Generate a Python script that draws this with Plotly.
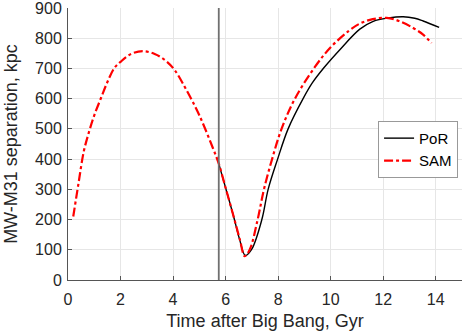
import plotly.graph_objects as go

# SAM track (Gyr, kpc)
sam_time = [0.2, 0.4, 0.6, 0.8, 1.0, 1.26, 1.5, 1.77, 2.0, 2.4, 2.85, 3.3, 3.7, 4.05, 4.5,
            5.0, 5.5, 5.74, 6.0, 6.29, 6.54, 6.73, 6.92, 7.22, 7.46, 7.77, 8.13, 8.64,
            9.4, 10.0, 10.7, 11.1, 11.6, 12.13, 12.6, 13.14, 13.52, 13.84]
sam_sep = [210, 320, 425, 490, 545, 603, 655, 702, 722, 748, 757, 748, 727, 696, 630,
           545, 440, 385, 305, 215, 135, 79, 101, 200, 300, 400, 500, 600,
           705, 770, 825, 848, 863, 867, 857, 834, 812, 784]

# PoR track
por_time = [5.74, 6.0, 6.29, 6.54, 6.75, 6.99, 7.38, 7.62, 7.98, 8.38, 8.95, 9.3, 9.75,
            10.35, 11.11, 11.62, 12.2, 12.76, 13.2, 13.52, 14.13]
por_sep = [385, 305, 215, 132, 81, 101, 200, 300, 400, 500, 600, 652, 703,
           762, 830, 856, 867, 871, 866, 857, 836]

present_time = 5.74

fig = go.Figure(
    data=[
        go.Scatter(name="PoR", x=por_time, y=por_sep, mode="lines",
                   line=dict(color="black", width=1.4, shape="spline", smoothing=1)),
        go.Scatter(name="SAM", x=sam_time, y=sam_sep, mode="lines",
                   line=dict(color="red", width=2.2, dash="dashdot", shape="spline", smoothing=1)),
    ]
)

fig.add_vline(x=present_time, line=dict(color="#707070", width=1.8))

axis_style = dict(
    showgrid=True, gridcolor="#e6e6e6", gridwidth=1,
    showline=True, linecolor="#555555", linewidth=1,
    ticks="inside", ticklen=4, tickcolor="#555555",
    zeroline=False, tickfont=dict(size=16, color="#262626"),
    automargin=False, ticklabeloverflow="allow",
)

fig.update_layout(
    width=463, height=334,
    margin=dict(l=68, r=1, t=8, b=54),
    paper_bgcolor="white", plot_bgcolor="white",
    font=dict(family="Liberation Sans, Arial, sans-serif", color="#262626"),
    xaxis=dict(range=[0, 15], dtick=2, ticklabelstandoff=5,
               title=dict(text="Time after Big Bang, Gyr", font=dict(size=18), standoff=7),
               **axis_style),
    yaxis=dict(range=[0, 900], dtick=100, ticklabelstandoff=2,
               title=dict(text="MW-M31 separation, kpc", font=dict(size=18), standoff=12),
               **axis_style),
    legend=dict(x=0.99, y=0.585, xanchor="right", yanchor="top",
                bordercolor="#999999", borderwidth=1, bgcolor="white",
                font=dict(size=15, color="black"), tracegroupgap=0,
                itemwidth=30),
    showlegend=True,
)

# drop the default page margin so the figure sits at the window's corner
fig.write_html("out.html", config={"displayModeBar": False},
               post_script="document.body.style.margin='0';")
